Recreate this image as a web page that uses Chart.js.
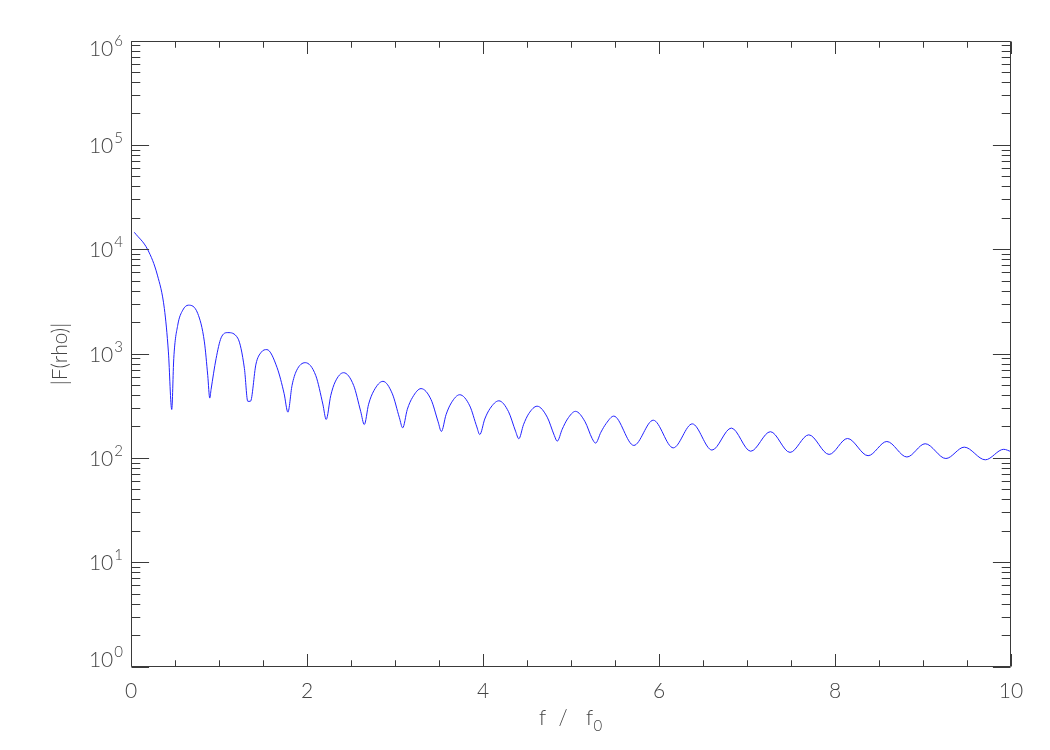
<!DOCTYPE html>
<html>
<head>
<meta charset="utf-8">
<script src="https://cdn.jsdelivr.net/npm/chart.js@4/dist/chart.umd.min.js"></script>
<style>
html,body{margin:0;padding:0;background:#fff;}
#wrap{width:1050px;height:750px;}
</style>
</head>
<body>
<div id="wrap"><canvas id="c" width="1050" height="750"></canvas></div>
<script>
// ---- data ----
const freq = [
  0.038, 0.19, 0.30, 0.379, 0.425, 0.463, 0.486, 0.531, 0.588, 0.652,
  0.758, 0.834, 0.872, 0.895, 0.91, 0.967, 1.024, 1.10, 1.213, 1.289,
  1.327, 1.357, 1.42, 1.48, 1.544, 1.66, 1.74, 1.783, 1.83, 1.88,
  1.98, 2.10, 2.18, 2.218, 2.27, 2.32, 2.416, 2.53, 2.61, 2.651,
  2.70, 2.76, 2.863, 2.97, 3.05, 3.087, 3.14, 3.20, 3.296, 3.41,
  3.49, 3.527, 3.58, 3.64, 3.735, 3.85, 3.93, 3.963, 4.02, 4.08,
  4.18, 4.29, 4.37, 4.407, 4.46, 4.52, 4.615, 4.73, 4.81, 4.843,
  4.90, 4.96, 5.051, 5.16, 5.24, 5.279, 5.34, 5.40, 5.486, 5.714,
  5.935, 6.162, 6.378, 6.602, 6.822, 7.042, 7.266, 7.489, 7.702, 7.933,
  8.142, 8.376, 8.589, 8.817, 9.025, 9.26, 9.469, 9.708, 9.917, 10.0
];
const amp = [
  14660, 10000, 5700, 2730, 1047, 294, 904, 1888, 2630, 2938,
  2450, 1306, 624, 378, 458, 904, 1430, 1603, 1420, 724,
  352, 352, 800, 1040, 1102, 740, 417, 277, 500, 690,
  826, 620, 331, 236, 400, 540, 662, 500, 282, 211,
  330, 445, 547, 415, 245, 196, 295, 385, 466, 365,
  224, 181, 262, 340, 407, 318, 200, 169, 238, 300,
  356, 280, 182, 154, 210, 268, 316, 248, 166, 146,
  190, 238, 282, 224, 155, 140, 178, 216, 254, 133,
  232, 126, 214, 120, 195, 117, 180, 114, 168, 109,
  155, 106, 145, 103, 138, 99.6, 128, 96.8, 122, 116
];
const xTickValues = [0, 2, 4, 6, 8, 10];
const xTickLabels = ['0', '2', '4', '6', '8', '10'];
const xMinorTickValues = [0.5,1,1.5,2.5,3,3.5,4.5,5,5.5,6.5,7,7.5,8.5,9,9.5];
const yTickExponents = [0, 1, 2, 3, 4, 5, 6];
const yMinorMultipliers = [2, 3, 4, 5, 6, 7, 8, 9];
const xTitleMain = ['f', '/', 'f'];
const xTitleSub = '0';
const yTitle = '|F(rho)|';

// ---- rendering ----
const FONT = '"Lato", "Open Sans", "Liberation Sans", sans-serif';
const W300 = '300 ';
const TEXT = '#444';
const AXIS = '#3a3a3a';

const idlAxes = {
  id: 'idlAxes',
  afterDatasetsDraw(chart) {
    const ctx = chart.ctx;
    const a = chart.chartArea;
    const xs = chart.scales.x, ys = chart.scales.y;
    const snap = p => Math.floor(p) + 0.5;
    const L = snap(a.left), R = snap(a.right - 1), T = snap(a.top), B = snap(a.bottom - 1);
    const H = B - T, W = R - L;
    const xMaj = 0.02 * H, xMin = xMaj / 2;
    const yMaj = 0.02 * W, yMin = yMaj / 2;
    ctx.save();
    ctx.strokeStyle = AXIS;
    ctx.lineWidth = 1;
    ctx.beginPath();
    ctx.rect(L, T, W, H);
    const xTick = (v, len) => {
      const p = snap(xs.getPixelForValue(v));
      ctx.moveTo(p, B); ctx.lineTo(p, B - len);
      ctx.moveTo(p, T); ctx.lineTo(p, T + len);
    };
    xTickValues.forEach(v => xTick(v, xMaj));
    xMinorTickValues.forEach(v => xTick(v, xMin));
    const yTick = (v, len) => {
      const p = snap(ys.getPixelForValue(v));
      ctx.moveTo(L, p); ctx.lineTo(L + len, p);
      ctx.moveTo(R, p); ctx.lineTo(R - len, p);
    };
    yTickExponents.forEach((e, i) => {
      yTick(Math.pow(10, e), yMaj);
      if (i < yTickExponents.length - 1) {
        yMinorMultipliers.forEach(m => yTick(m * Math.pow(10, e), yMin));
      }
    });
    ctx.stroke();

    ctx.fillStyle = TEXT;
    ctx.font = W300 + '21px ' + FONT;
    ctx.textAlign = 'center';
    ctx.textBaseline = 'alphabetic';
    xTickValues.forEach((v, i) => {
      ctx.fillText(xTickLabels[i], xs.getPixelForValue(v), a.bottom + 31);
    });

    const rightEdge = a.left - 8;
    yTickExponents.forEach((e, i) => {
      const p = ys.getPixelForValue(Math.pow(10, e));
      let base = p + 7.5;
      if (i === 0) base = p;
      if (i === yTickExponents.length - 1) base = p + 15;
      ctx.font = W300 + '15px ' + FONT;
      const sup = String(e);
      const w2 = ctx.measureText(sup).width;
      ctx.font = W300 + '21px ' + FONT;
      const w1 = ctx.measureText('10').width;
      ctx.textAlign = 'left';
      ctx.fillText('10', rightEdge - w2 - 1 - w1, base);
      ctx.font = W300 + '15px ' + FONT;
      ctx.fillText(sup, rightEdge - w2, base - 10);
    });

    const cx = (a.left + a.right) / 2;
    ctx.font = W300 + '21px ' + FONT;
    ctx.textAlign = 'center';
    ctx.fillText(xTitleMain[0], cx - 28.5, 725);
    ctx.fillText(xTitleMain[1], cx - 8, 725);
    ctx.textAlign = 'left';
    ctx.fillText(xTitleMain[2], cx + 15, 725);
    ctx.font = W300 + '15px ' + FONT;
    ctx.fillText(xTitleSub, cx + 22.5, 731);

    ctx.save();
    ctx.translate(60, (a.top + a.bottom) / 2);
    ctx.rotate(-Math.PI / 2);
    ctx.font = W300 + '21px ' + FONT;
    ctx.textAlign = 'center';
    ctx.textBaseline = 'middle';
    ctx.fillText(yTitle, 0, 0);
    ctx.restore();

    ctx.restore();
  }
};

new Chart(document.getElementById('c'), {
  type: 'line',
  data: {
    datasets: [{
      data: freq.map((f, i) => ({ x: f, y: amp[i] })),
      borderColor: '#2222ff',
      borderWidth: 1,
      pointRadius: 0,
      fill: false,
      cubicInterpolationMode: 'monotone'
    }]
  },
  options: {
    responsive: false,
    animation: false,
    devicePixelRatio: 1,
    layout: { padding: { left: 131, top: 41, right: 39, bottom: 83 } },
    plugins: { legend: { display: false }, tooltip: { enabled: false } },
    scales: {
      x: { type: 'linear', min: 0, max: 10, display: false },
      y: { type: 'logarithmic', min: 1, max: 1000000, display: false }
    }
  },
  plugins: [idlAxes]
});
</script>
</body>
</html>
